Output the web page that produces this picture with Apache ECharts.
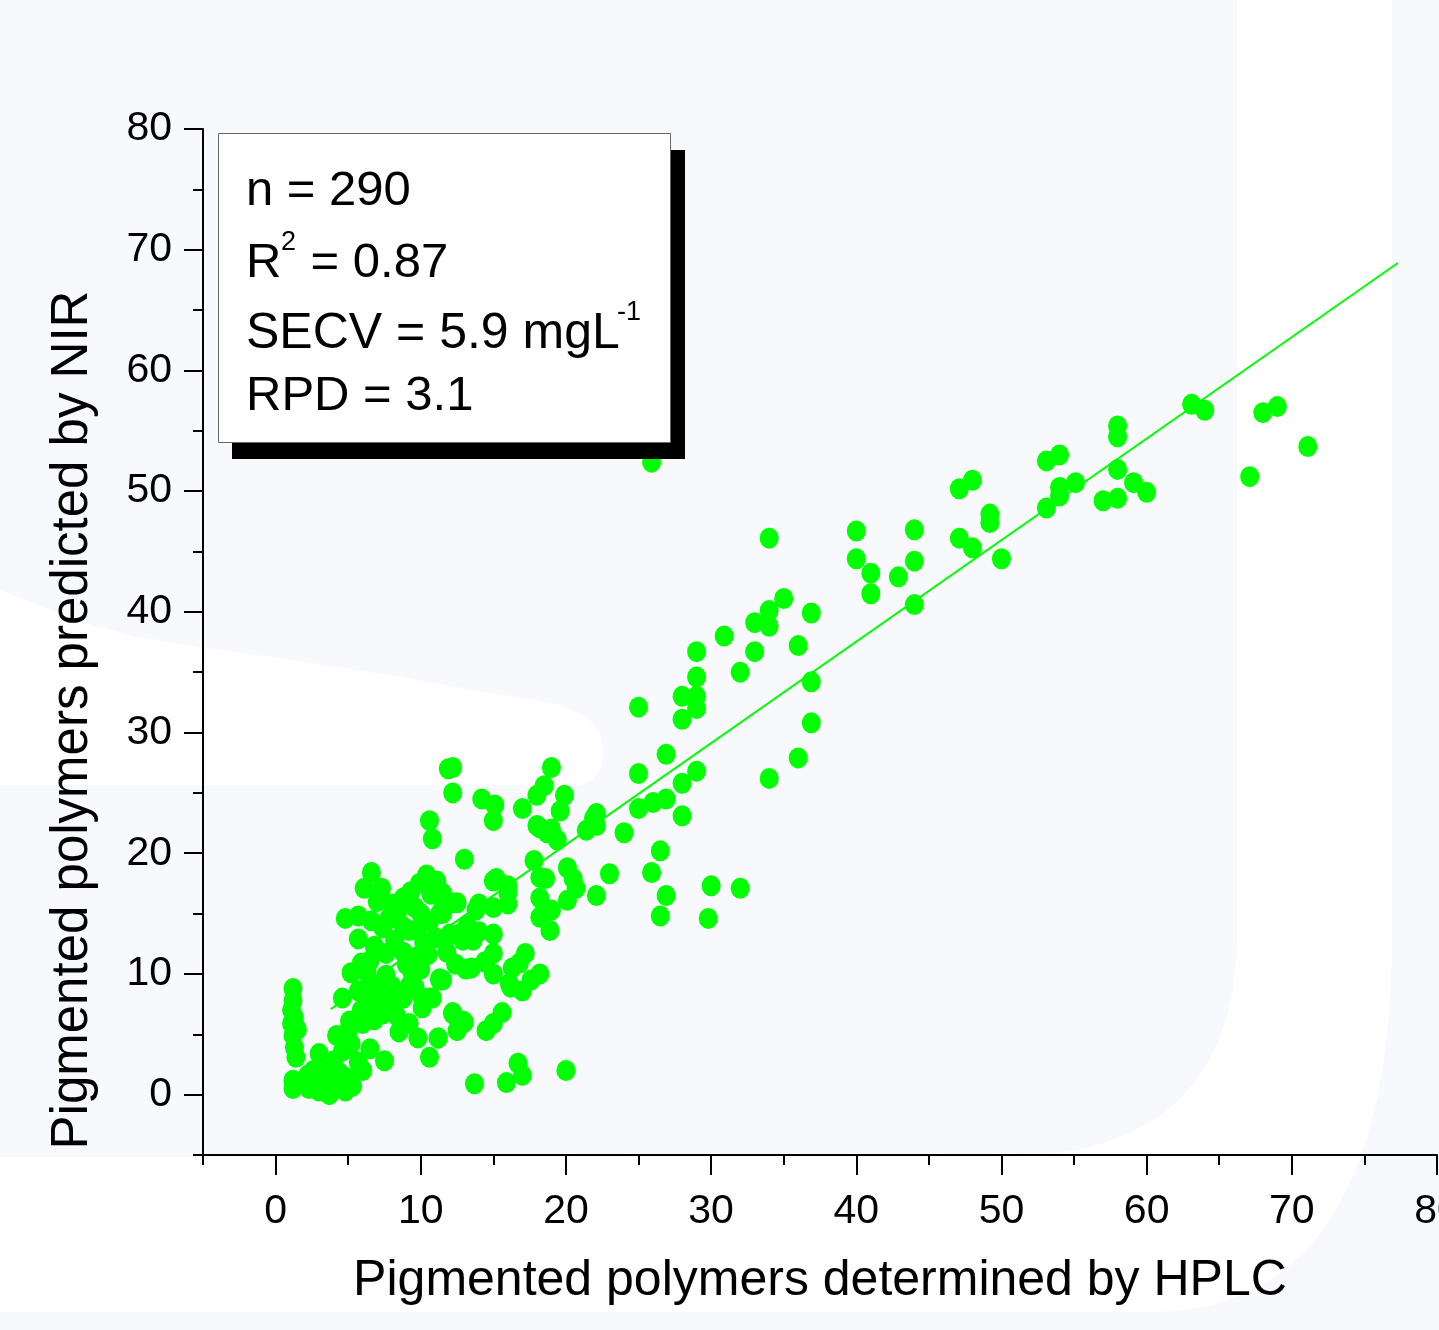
<!DOCTYPE html>
<html><head><meta charset="utf-8">
<script src="https://cdn.jsdelivr.net/npm/echarts@6/dist/echarts.min.js"></script>
<style>html,body{margin:0;padding:0;background:#f8f9fd;}#c{width:1439px;height:1330px;}</style>
</head><body><div id="c"></div>
<script>
// ---- axis ticks ----
const xTicks = [0,10,20,30,40,50,60,70,80];
const xMinorTicks = [-5,5,15,25,35,45,55,65,75];
const yTicks = [0,10,20,30,40,50,60,70,80];
const yMinorTicks = [-5,5,15,25,35,45,55,65,75];

// ---- regression line ----
const fitX = [3.8, 77.3];
const fitY = [7.08, 68.9];

// ---- statistics text ----
const statN = 'n = 290';
const statR2 = ' = 0.87';
const statSECV = 'SECV = 5.9 mgL';
const statRPD = 'RPD = 3.1';

// ---- data points [HPLC, NIR] ----
const pointsHigh = [
[63.1,57.2],[64.0,56.7],[68.0,56.5],[69.0,57.0],[71.1,53.7],[67.1,51.2],
[58.0,55.4],[58.0,54.5],[58.0,51.8],[58.0,49.4],[57.0,49.2],[59.1,50.7],[60.0,49.9],
[55.1,50.7],[54.0,53.0],[53.1,52.5],[54.0,50.3],[54.0,49.6],[53.1,48.6],
[47.1,50.2],[48.0,50.9],[49.2,48.1],[49.2,47.4],[50.0,44.4],
[47.1,46.1],[48.0,45.3],[44.0,46.8],[44.0,44.2],[40.0,46.7],[40.0,44.4],[41.0,43.2],[41.0,41.5],[42.9,42.9],[44.0,40.6],
[36.9,39.9],[25.9,52.4],[34.0,46.1]
];
const pointsMid = [
[35.0,41.1],[34.0,40.1],[34.0,38.8],[33.0,39.1],[30.9,38.0],[33.0,36.7],[36.0,37.2],[32.0,35.0],
[29.0,36.7],[29.0,34.6],[28.0,33.0],[29.0,33.0],[29.0,32.0],[28.0,31.1],[25.0,32.1],[36.9,34.2],[36.9,30.8],
[26.9,28.2],[25.0,26.6],[29.0,26.8],[28.0,25.8],[36.0,27.9],[34.0,26.2],[28.0,23.1],[26.9,24.5],[26.0,24.2],[25.0,23.7],[24.0,21.7],
[22.1,23.3],[22.1,22.3],[21.4,21.9],[21.9,22.9],
[26.5,20.2],[25.9,18.4],[26.9,16.5],[26.5,14.8],[30.0,17.3],[32.0,17.1],[29.8,14.6]
];
const pointsLowerMid = [
[19.0,27.1],[18.5,25.6],[18.0,24.8],[19.9,24.8],[19.6,23.5],[17.0,23.7],[18.0,22.3],[18.7,21.7],[19.4,21.1],[18.2,22.1],[19.0,22.0],
[17.8,19.4],[18.2,18.0],[18.2,16.3],[18.2,14.7],[18.9,13.6],[20.1,18.8],[20.1,16.1],[20.7,17.1],[22.1,16.5],[23.0,18.3],[18.6,17.9],[20.5,17.9],[18.4,15.0],[19.0,15.3],
[12.2,27.1],[11.9,27.0],[12.2,25.0],[10.6,22.7],[10.8,21.2],[14.2,24.5],[15.1,24.0],[15.0,22.7],[13.0,19.5],
[15.2,17.9],[16.0,17.3],[16.0,15.8],[16.0,16.7],[15.0,17.7],[15.0,15.5],[13.8,15.3],[15.0,13.3],[15.0,11.7],[17.2,11.7],[16.3,10.5],[16.1,9.2],[17.0,8.6],[18.2,10.0],[13.5,10.5],[15.0,10.0],[16.2,8.9],[16.8,10.9],[17.6,9.5],
[14.4,11.0],[14.0,15.8],[13.2,14.0],[14.0,13.5],[12.7,13.3],[13.6,12.8],[13.1,10.4]
];
const pointsLow = [
[15.6,6.8],[15.0,5.9],[14.5,5.3],[13.0,6.0],[12.2,6.8],[12.5,5.3],[11.2,4.7],[10.6,3.1],[12.9,6.1],
[13.7,0.9],[15.9,1.0],[16.7,2.6],[17.0,1.6],[20.0,2.0],
[11.3,9.5],[10.6,8.0],[10.1,7.2],[11.5,9.5]
];
const pointsCluster = [
[6.6,18.4],[6.1,17.1],[7.3,17.1],[4.8,14.6],[5.7,14.8],[5.7,12.9],[7.4,13.8],[8.8,16.3],[10.4,18.2],[11.1,17.7],[9.9,17.5],[11.5,16.7],[12.5,15.9],[8.4,15.1],[9.6,15.5],[8.8,13.9],[9.7,13.6],[10.6,14.3],[11.5,15.0],[12.0,13.3],[12.9,12.8],
[11.5,16.1],[12.2,15.9],[11.3,15.0],[9.2,13.6],
[7.6,11.7],[8.8,11.8],[9.7,11.4],[5.9,10.9],[5.2,10.1],[6.3,10.1],[7.6,9.9],[9.4,10.1],[9.6,8.9],[10.1,8.0],[11.3,9.6],[10.8,8.0],[9.2,9.0],
[4.6,8.0],[5.7,8.6],[7.0,8.6],[7.9,7.5],[8.3,6.6],[7.4,6.7],[5.9,7.0],[5.1,6.1],[6.0,5.9],[9.2,5.9],[9.8,4.7],[11.2,4.7],[12.2,6.7],[12.7,5.7],[6.5,9.3],[7.0,7.5],[6.5,11.1],
[4.2,4.9],[4.6,3.6],[5.7,2.7],[3.0,3.4],[2.6,2.0],[3.7,2.2],[4.9,1.4],[3.9,0.9],[3.0,0.3],[2.3,0.5],[4.8,0.3],[3.7,0.0],[1.2,1.2],[1.2,0.5],[7.5,2.8],
[1.2,8.8],[1.2,7.8],[1.1,7.0],[1.1,5.9],[1.2,4.9],[1.3,3.9],[1.4,3.1],
[8.0,15.8],[7.0,16.0],[8.2,12.8],[6.8,12.3],[10.2,12.6],[9.0,10.8],[8.0,9.0],[6.2,8.0],[8.8,8.0],[10.0,10.4],[7.8,14.6],[6.6,14.4],[10.7,16.6],[9.3,16.8],[10.0,15.0],[11.0,13.0],[11.8,11.8],[12.4,10.8],[10.5,11.6],[8.5,5.2],[6.5,3.8],[5.2,4.2],[6.0,2.0],[4.0,2.8],[2.2,1.6],[4.4,1.8],[5.3,0.7],[3.2,1.4],[2.8,0.8],[1.5,5.4],[1.3,6.4],[5.0,5.3],[6.8,6.2]
];

const allPoints = [].concat(pointsHigh, pointsMid, pointsLowerMid, pointsLow, pointsCluster);

// ---- background watermark helper ----
function quad(p0, c, p1, n) {
  const out = [];
  for (let i = 0; i <= n; i++) {
    const t = i / n, a = (1-t)*(1-t), b = 2*(1-t)*t, d = t*t;
    out.push([a*p0[0]+b*c[0]+d*p1[0], a*p0[1]+b*c[1]+d*p1[1]]);
  }
  return out;
}
const blobLeft = [[0,590],[45,608],[89,624],[134,636],[205,648],[300,661],[400,677],[491,693],[530,699],[560,705],[587,717],[600,733],[603,750],[602,767],[593,780],[580,785],[0,785]];
const bandJ = [[1237,0],[1392,0]].concat(
  quad([1392,932],[1392,1312],[1150,1312],24),
  [[0,1312],[0,1157]],
  quad([1000,1157],[1237,1157],[1237,932],24)
);

const FONT = '"Liberation Sans", Arial, Helvetica, sans-serif';
const chart = echarts.init(document.getElementById('c'), null, {renderer:'canvas'});

const tickStyle = {color:'#000', width:2};
const option = {
  animation: false,
  backgroundColor: '#f8f9fd',
  textStyle: {fontFamily: FONT},
  grid: {left:203, right:2, top:129, bottom:175, containLabel:false, outerBoundsMode:'none'},
  xAxis: [{
    type:'value', min:-5, max:80, position:'bottom',
    name:'Pigmented polymers determined by HPLC', nameLocation:'middle', nameGap:101,
    nameTextStyle:{fontSize:50, color:'#000', fontFamily:FONT},
    axisLine:{show:true, onZero:false, lineStyle:{color:'#000', width:2}},
    axisTick:{show:true, inside:false, length:20, customValues:xTicks, lineStyle:tickStyle},
    axisLabel:{show:true, customValues:xTicks, fontSize:41, color:'#000', margin:36, fontFamily:FONT},
    splitLine:{show:false}
  },{
    type:'value', min:-5, max:80, position:'bottom', gridIndex:0,
    axisLine:{show:false, onZero:false},
    axisTick:{show:true, inside:false, length:10, customValues:xMinorTicks, lineStyle:tickStyle},
    axisLabel:{show:false},
    splitLine:{show:false}
  }],
  yAxis: [{
    type:'value', min:-5, max:80, position:'left',
    axisLine:{show:true, onZero:false, lineStyle:{color:'#000', width:2}},
    axisTick:{show:true, inside:false, length:19, customValues:yTicks, lineStyle:tickStyle},
    axisLabel:{show:true, customValues:yTicks, fontSize:41, color:'#000', margin:31, fontFamily:FONT},
    splitLine:{show:false}
  },{
    type:'value', min:-5, max:80, position:'left', gridIndex:0,
    axisLine:{show:false, onZero:false},
    axisTick:{show:true, inside:false, length:10, customValues:yMinorTicks, lineStyle:tickStyle},
    axisLabel:{show:false},
    splitLine:{show:false}
  }],
  series: [{
    type:'line', xAxisIndex:0, yAxisIndex:0,
    data: fitX.map((x,i)=>[x, fitY[i]]),
    showSymbol:false, symbol:'none', silent:true, z:2,
    lineStyle:{color:'#00ff00', width:2}
  },{
    type:'scatter', xAxisIndex:0, yAxisIndex:0,
    data: allPoints, symbol:'circle', symbolSize:[19,21], z:3,
    itemStyle:{color:'#00ff00', opacity:1}
  }],
  graphic: [
    {type:'rect', z:-100, silent:true, shape:{x:0,y:0,width:1439,height:1330}, style:{fill:'#f8f9fd'}},
    {type:'polygon', z:-99, silent:true, shape:{points:blobLeft}, style:{fill:'#ffffff'}},
    {type:'polygon', z:-99, silent:true, shape:{points:bandJ}, style:{fill:'#ffffff'}},
    {type:'text', z:50, x:73, y:720, rotation:Math.PI/2, silent:true,
      style:{text:'Pigmented polymers predicted by NIR', fontSize:51, fontFamily:FONT, fill:'#000', align:'center', verticalAlign:'middle'}},
    {type:'rect', z:100, silent:true, shape:{x:232,y:150,width:453,height:309}, style:{fill:'#000'}},
    {type:'rect', z:101, silent:true, shape:{x:218.5,y:133.5,width:452,height:309}, style:{fill:'#fff', stroke:'#666', lineWidth:1}},
    {type:'text', z:102, x:246, y:191, silent:true, style:{text:statN, fontSize:49, fontFamily:FONT, fill:'#000', align:'left', verticalAlign:'middle'}},
    {type:'text', z:102, x:246, y:263, silent:true, style:{text:'R', fontSize:49, fontFamily:FONT, fill:'#000', align:'left', verticalAlign:'middle'}},
    {type:'text', z:102, x:281, y:243, silent:true, style:{text:'2', fontSize:27, fontFamily:FONT, fill:'#000', align:'left', verticalAlign:'middle'}},
    {type:'text', z:102, x:297, y:263, silent:true, style:{text:statR2, fontSize:49, fontFamily:FONT, fill:'#000', align:'left', verticalAlign:'middle'}},
    {type:'text', z:102, x:246, y:334, silent:true, style:{text:statSECV, fontSize:50, fontFamily:FONT, fill:'#000', align:'left', verticalAlign:'middle'}},
    {type:'text', z:102, x:617, y:313, silent:true, style:{text:'-1', fontSize:27, fontFamily:FONT, fill:'#000', align:'left', verticalAlign:'middle'}},
    {type:'text', z:102, x:246, y:396, silent:true, style:{text:statRPD, fontSize:49, fontFamily:FONT, fill:'#000', align:'left', verticalAlign:'middle'}}
  ]
};
chart.setOption(option);
</script></body></html>
